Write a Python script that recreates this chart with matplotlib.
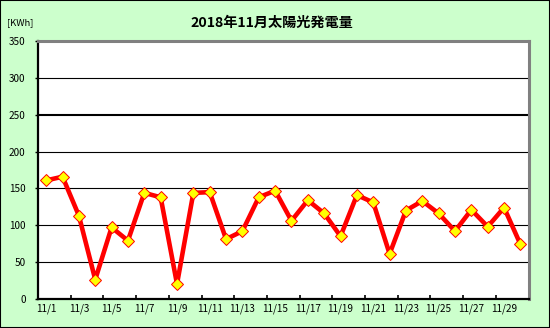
import matplotlib.pyplot as plt
from matplotlib.ticker import FixedLocator

plt.rcParams['font.family'] = ['Noto Sans CJK JP', 'DejaVu Sans']

# daily generation, November 2018
days = [f"11/{d}" for d in range(1, 31)]
kwh = [161, 166, 113, 26, 97, 79, 144, 138, 20, 144,
       145, 81, 92, 138, 147, 106, 134, 116, 85, 141,
       131, 61, 120, 133, 116, 92, 121, 98, 124, 74]
y_ticks = [0, 50, 100, 150, 200, 250, 300, 350]

fig = plt.figure(figsize=(5.5, 3.28), dpi=100, facecolor='#CCFFCC')
fig.patches.append(plt.Rectangle((0, 0), 1, 1, transform=fig.transFigure,
                                 fill=False, edgecolor='black', lw=1.5))
ax = fig.add_axes([0.0691, 0.0893, 0.892, 0.7842])
ax.set_facecolor('white')

x = list(range(len(days)))
for v in y_ticks[1:-1]:
    ax.axhline(v, color='black', lw=1.5 if v == 250 else 0.8, zorder=1)

ax.plot(x, kwh, color='#FF0000', lw=3.3, marker='D', ms=6,
        mfc='#FFFF00', mec='#FF0000', mew=0.7, zorder=3, clip_on=False)

ax.set_xlim(-0.5, len(days) - 0.5)
ax.set_ylim(0, 350)
ax.set_yticks(y_ticks)
ax.set_yticklabels([str(v) for v in y_ticks], fontsize=7.2)
ax.xaxis.set_major_locator(FixedLocator([i + 1.5 for i in range(0, 28, 2)]))
ax.xaxis.set_minor_locator(FixedLocator(x[::2]))
ax.set_xticklabels([], minor=False)
ax.set_xticklabels(days[::2], minor=True, fontsize=7.2)
ax.tick_params(axis='x', which='major', direction='in', length=3, width=1.2)
ax.tick_params(axis='x', which='minor', length=0, pad=3.5)
ax.tick_params(axis='y', direction='out', length=2, pad=7, width=1)

for side in ['left', 'bottom']:
    ax.spines[side].set_linewidth(1.6)
    ax.spines[side].set_color('black')
for side in ['top', 'right']:
    ax.spines[side].set_linewidth(2.2)
    ax.spines[side].set_color('#808080')

fig.text(0.494, 0.93, '2018年11月太陽光発電量', ha='center', va='center',
         fontsize=10.2, fontweight='bold')
fig.text(0.013, 0.93, '[KWh]', ha='left', va='center', fontsize=6.8)

fig.savefig('out.png', dpi=100, facecolor=fig.get_facecolor())
